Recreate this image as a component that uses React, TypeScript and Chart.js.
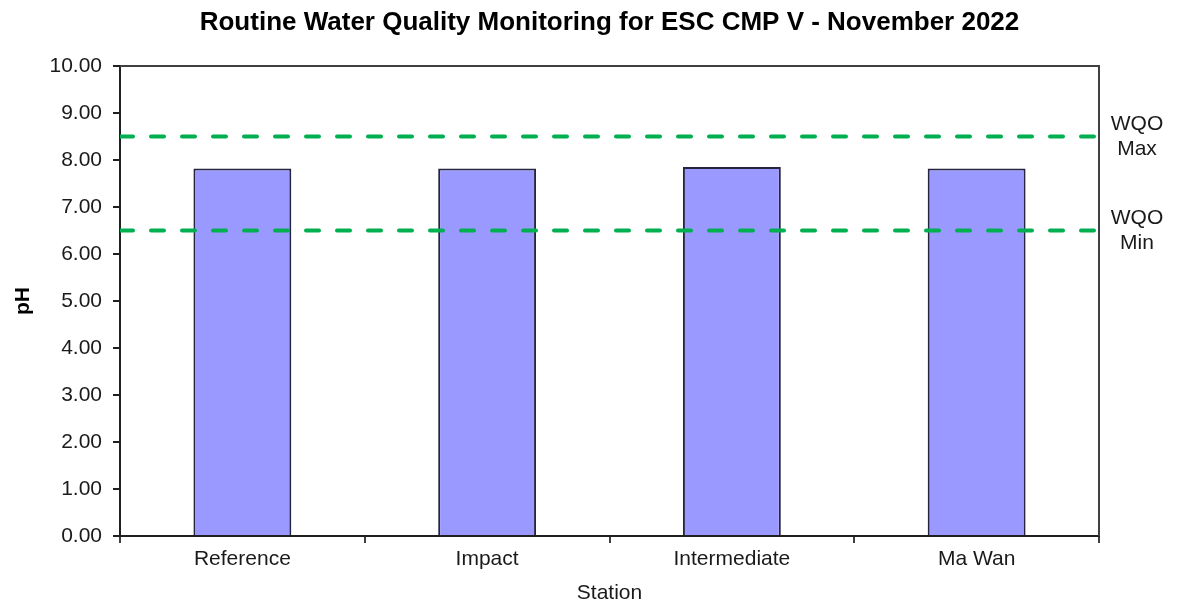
import React, { useEffect, useRef } from "react";
import { Chart, registerables } from "chart.js";

Chart.register(...registerables);

const stations = ["Reference", "Impact", "Intermediate", "Ma Wan"];
const phValues = [7.82, 7.82, 7.85, 7.82];
const wqoMax = 8.5;
const wqoMin = 6.5;
const limitLabels = [
  ["WQO", "Max"],
  ["WQO", "Min"],
];
const limitValues = [wqoMax, wqoMin];

const FONT = "'Liberation Sans', Arial, sans-serif";

const frameAndLabels = {
  id: "frameAndLabels",
  afterDatasetsDraw(chart: any) {
    const { ctx, chartArea, scales } = chart;
    ctx.save();
    ctx.strokeStyle = "#404040";
    ctx.lineWidth = 2;
    ctx.beginPath();
    ctx.moveTo(chartArea.left, chartArea.top);
    ctx.lineTo(chartArea.right, chartArea.top);
    ctx.lineTo(chartArea.right, chartArea.bottom);
    ctx.stroke();
    ctx.fillStyle = "#1a1a1a";
    ctx.font = `21px ${FONT}`;
    ctx.textAlign = "center";
    ctx.textBaseline = "middle";
    limitValues.forEach((v, i) => {
      const y = scales.y.getPixelForValue(v);
      const x = chartArea.right + 38;
      ctx.fillText(limitLabels[i][0], x, y - 12.5);
      ctx.fillText(limitLabels[i][1], x, y + 12.5);
    });
    ctx.restore();
  },
};

export default function App() {
  const ref = useRef<HTMLCanvasElement>(null);
  useEffect(() => {
    if (!ref.current) return;
    const lineDs = (v: number) => ({
      type: "line" as const,
      data: [
        { x: 0, y: v },
        { x: 1, y: v },
      ],
      xAxisID: "x2",
      borderColor: "#00B050",
      borderWidth: 4,
      borderDash: [13, 18],
      borderCapStyle: "round" as const,
      pointRadius: 0,
      fill: false,
      order: 0,
    });
    const chart = new Chart(ref.current, {
      type: "bar",
      data: {
        labels: stations,
        datasets: [
          {
            type: "bar",
            data: phValues,
            backgroundColor: "#9999FF",
            borderColor: "#25253f",
            borderWidth: 2,
            barPercentage: 0.4,
            categoryPercentage: 1,
            grouped: false,
            order: 1,
          } as any,
          lineDs(wqoMax) as any,
          lineDs(wqoMin) as any,
        ],
      },
      options: {
        responsive: false,
        animation: false,
        layout: { padding: { left: 0, right: 83, top: 0, bottom: 0 } },
        plugins: {
          legend: { display: false },
          tooltip: { enabled: false },
          title: {
            display: true,
            text: "Routine Water Quality Monitoring for ESC CMP V - November 2022",
            color: "#000",
            font: { family: FONT, size: 26, weight: "bold" },
            padding: { top: 7, bottom: 27.8 },
            fullSize: false,
          },
        },
        scales: {
          x: {
            type: "category",
            offset: true,
            grid: {
              display: true,
              offset: true,
              drawOnChartArea: false,
              tickLength: 7,
              color: "#404040",
              lineWidth: 2,
            },
            border: { display: true, color: "#202020", width: 2 },
            ticks: {
              color: "#1a1a1a",
              font: { family: FONT, size: 21 },
              padding: 4,
              maxRotation: 0,
            },
            title: {
              display: true,
              text: "Station",
              color: "#1a1a1a",
              font: { family: FONT, size: 21 },
              padding: { top: 0, bottom: 2.4 },
            },
            afterFit: (s: any) => {
              s.height = 72;
            },
          },
          x2: {
            type: "linear",
            display: false,
            offset: false,
            grid: { offset: false },
            min: 0,
            max: 1,
          },
          y: {
            type: "linear",
            min: 0,
            max: 10,
            ticks: {
              stepSize: 1,
              color: "#1a1a1a",
              font: { family: FONT, size: 21 },
              padding: 11,
              callback: (v: any) => Number(v).toFixed(2),
            },
            grid: {
              display: true,
              drawOnChartArea: false,
              tickLength: 7,
              color: "#202020",
              lineWidth: 2,
            },
            border: { display: true, color: "#202020", width: 2 },
            title: {
              display: true,
              text: "pH",
              color: "#000",
              font: { family: FONT, size: 21, weight: "bold" },
              padding: { top: 10.4, bottom: 0 },
            },
            afterFit: (s: any) => {
              s.width = 120;
            },
          },
        },
      },
      plugins: [frameAndLabels],
    });
    return () => chart.destroy();
  }, []);
  return (
    <div style={{ position: "fixed", left: 0, top: 0, width: 1182, height: 608, background: "#fff" }}>
      <canvas ref={ref} width={1182} height={608} />
    </div>
  );
}
